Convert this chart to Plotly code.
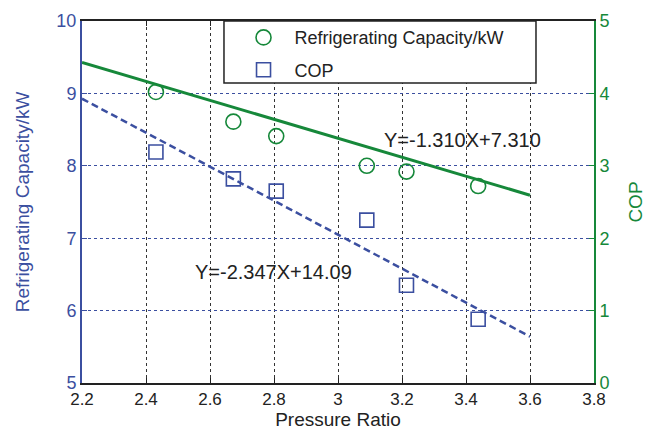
import numpy as np
import plotly.graph_objects as go

# Measured points
pressure_ratio = [2.431, 2.673, 2.807, 3.090, 3.214, 3.438]
circle_values = [4.02, 3.61, 3.41, 3.00, 2.92, 2.72]       # right axis (COP scale)
square_values = [8.19, 7.82, 7.65, 7.25, 6.35, 5.88]        # left axis (kW scale)

# Fitted lines as stated on the chart
green_fit = {"slope": -1.310, "intercept": 7.310, "label": "Y=-1.310X+7.310"}
blue_fit = {"slope": -2.347, "intercept": 14.09, "label": "Y=-2.347X+14.09"}
fit_x = [2.2, 3.6]

x_ticks = [2.2, 2.4, 2.6, 2.8, 3.0, 3.2, 3.4, 3.6, 3.8]
x_tick_text = ["2.2", "2.4", "2.6", "2.8", "3", "3.2", "3.4", "3.6", "3.8"]

BLUE = "#3B4FA0"
GREEN = "#16883A"
INK = "#222222"
FONT = "Liberation Sans, Arial, sans-serif"

fx = np.array(fit_x)
fig = go.Figure()

fig.add_trace(go.Scatter(
    x=fx, y=green_fit["slope"] * fx + green_fit["intercept"], yaxis="y2",
    mode="lines", line=dict(color=GREEN, width=3), showlegend=False, hoverinfo="skip"))
fig.add_trace(go.Scatter(
    x=fx, y=blue_fit["slope"] * fx + blue_fit["intercept"], yaxis="y",
    mode="lines", line=dict(color=BLUE, width=2.5, dash="7px,4px"), showlegend=False, hoverinfo="skip"))

fig.add_trace(go.Scatter(
    x=pressure_ratio, y=circle_values, yaxis="y2", mode="markers",
    name="Refrigerating Capacity/kW", legendgroup="a",
    marker=dict(symbol="circle-open", size=15, color=GREEN, line=dict(width=1.6, color=GREEN))))
fig.add_trace(go.Scatter(
    x=pressure_ratio, y=square_values, yaxis="y", mode="markers",
    name="COP", legendgroup="b",
    marker=dict(symbol="square-open", size=14, color=BLUE, line=dict(width=1.6, color=BLUE))))

# Equation labels
fig.add_annotation(x=3.3875, y=8.355, xref="x", yref="y",
                   text=green_fit["label"], showarrow=False, xanchor="center", yanchor="middle",
                   font=dict(family=FONT, size=20, color=INK))
fig.add_annotation(x=2.797, y=6.534, xref="x", yref="y",
                   text=blue_fit["label"], showarrow=False, xanchor="center", yanchor="middle",
                   font=dict(family=FONT, size=20, color=INK))

# Legend frame
fig.add_shape(type="rect", xref="paper", yref="paper",
              x0=0.2773, x1=0.8867, y0=0.8287, y1=1.0,
              line=dict(color=INK, width=1.5), fillcolor="white", layer="above")

fig.update_layout(
    width=646, height=432,
    margin=dict(l=82, r=52, t=21, b=49),
    paper_bgcolor="white", plot_bgcolor="white",
    font=dict(family=FONT, size=18, color=INK),
    xaxis=dict(
        range=[2.2, 3.8], tickvals=x_ticks, ticktext=x_tick_text,
        showline=True, linecolor=INK, linewidth=2, mirror="ticks",
        ticks="inside", ticklen=5, tickcolor=INK,
        showgrid=True, gridcolor="#333333", griddash="dot", gridwidth=1,
        zeroline=False, ticklabelstandoff=0, automargin=False,
        title=dict(text="Pressure Ratio", font=dict(size=19, color=INK), standoff=4),
        tickfont=dict(size=17, color=INK),
    ),
    yaxis=dict(
        range=[5, 10], dtick=1,
        showline=True, linecolor=BLUE, linewidth=2,
        ticks="inside", ticklen=5, tickcolor=BLUE,
        showgrid=True, gridcolor=BLUE, griddash="dot", gridwidth=1,
        zeroline=False, automargin=False,
        title=dict(text="Refrigerating Capacity/kW", font=dict(size=19, color=BLUE), standoff=22),
        tickfont=dict(size=18, color=BLUE),
    ),
    yaxis2=dict(
        range=[0, 5], dtick=1, overlaying="y", side="right",
        showline=True, linecolor=GREEN, linewidth=2,
        ticks="inside", ticklen=5, tickcolor=GREEN,
        showgrid=False, zeroline=False, automargin=False,
        title=dict(text="COP", font=dict(size=19, color=GREEN), standoff=25),
        tickfont=dict(size=18, color=GREEN),
    ),
    legend=dict(
        x=0.294, y=1.005, xanchor="left", yanchor="top",
        bgcolor="rgba(0,0,0,0)", borderwidth=0,
        font=dict(size=18, color=INK),
        itemwidth=52, tracegroupgap=6,
    ),
)

fig.write_html("out.html")
